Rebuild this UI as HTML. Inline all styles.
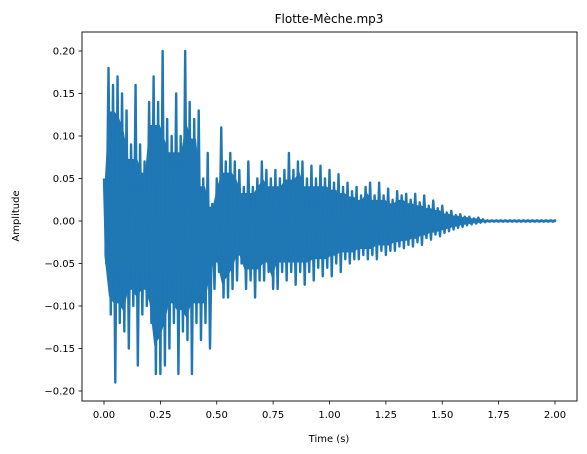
<!DOCTYPE html>
<html><head><meta charset="utf-8"><style>
body{margin:0;background:#fff;}
svg{display:block;font-family:"DejaVu Sans","Liberation Sans",sans-serif;}
</style></head><body>
<svg id="chart" width="587" height="454">
<text x="329" y="23" text-anchor="middle" font-size="12">Flotte-Mèche.mp3</text>
<g id="plot"></g>
<rect x="82" y="32" width="495" height="369" fill="none" stroke="#000" stroke-width="0.9"/>
<g id="xticks"></g>
<g id="yticks"></g>
<text x="329" y="442" text-anchor="middle" font-size="10">Time (s)</text>
<text transform="translate(19,216) rotate(-90)" text-anchor="middle" font-size="10">Amplitude</text>
</svg>
<script>
const binStep = 0.02;
const maxVals = [0.05,0.18,0.16,0.17,0.15,0.13,0.09,0.16,0.09,0.07,0.14,0.17,0.14,0.20,0.12,0.10,0.15,0.10,0.20,0.14,0.12,0.13,0.05,0.08,0.02,0.05,0.11,0.07,0.08,0.07,0.06,0.04,0.07,0.04,0.05,
0.07,0.06,0.05,0.06,0.05,0.06,0.08,0.06,0.07,0.07,0.05,0.065,0.05,0.065,0.05,0.06,0.045,0.055,0.04,0.045,0.035,0.04,0.03,0.04,0.045,0.03,0.045,0.03,0.038,0.025,0.035,0.03,0.032,0.025,0.032,0.022,0.03,0.018,0.024,0.015,0.018,0.01,0.012,0.007,0.008,0.005,0.005,0.003,0.004,0.002,
0.0008,0.0008,0.0008,0.0008,0.0008,0.0008,0.0008,0.0008,0.0008,0.0008,0.0008,0.0008,0.0008,0.0008,0.0008,0.0008];
const minVals = [-0.05,-0.11,-0.19,-0.12,-0.13,-0.15,-0.10,-0.17,-0.11,-0.10,-0.12,-0.18,-0.18,-0.17,-0.15,-0.12,-0.18,-0.13,-0.14,-0.18,-0.12,-0.14,-0.12,-0.15,-0.08,-0.06,-0.09,-0.09,-0.08,-0.07,-0.05,-0.08,-0.07,-0.09,-0.07,
-0.07,-0.06,-0.08,-0.08,-0.06,-0.07,-0.06,-0.075,-0.06,-0.075,-0.06,-0.07,-0.055,-0.065,-0.055,-0.065,-0.05,-0.06,-0.045,-0.05,-0.045,-0.045,-0.04,-0.045,-0.04,-0.045,-0.035,-0.04,-0.035,-0.035,-0.03,-0.032,-0.028,-0.03,-0.025,-0.028,-0.02,-0.022,-0.016,-0.018,-0.014,-0.012,-0.01,-0.008,-0.007,-0.005,-0.004,-0.003,-0.002,-0.0015,
-0.0008,-0.0008,-0.0008,-0.0008,-0.0008,-0.0008,-0.0008,-0.0008,-0.0008,-0.0008,-0.0008,-0.0008,-0.0008,-0.0008,-0.0008,-0.0008];
const xTickVals = [0,0.25,0.5,0.75,1.0,1.25,1.5,1.75,2.0];
const xTickLabels = ["0.00","0.25","0.50","0.75","1.00","1.25","1.50","1.75","2.00"];
const yTickVals = [-0.20,-0.15,-0.10,-0.05,0,0.05,0.10,0.15,0.20];
const yTickLabels = ["−0.20","−0.15","−0.10","−0.05","0.00","0.05","0.10","0.15","0.20"];

const NS="http://www.w3.org/2000/svg";
function xs(t){return 104 + t*225.5;}
function ys(v){return 221 - v*850;}
const plotG=document.getElementById("plot");

let coreTop=[],coreBot=[];
for(let i=0;i<maxVals.length;i++){
  const t=Math.min(i*binStep+binStep/4,2.0);
  const nxM=maxVals[Math.min(i+1,maxVals.length-1)], nxm=minVals[Math.min(i+1,minVals.length-1)];
  coreTop.push(xs(t).toFixed(2)+","+ys(Math.min(maxVals[i],nxM)*0.8).toFixed(2));
  coreBot.unshift(xs(t).toFixed(2)+","+ys(Math.max(minVals[i],nxm)*0.8).toFixed(2));
}
const core=document.createElementNS(NS,"polygon");
core.setAttribute("points",coreTop.concat(coreBot).join(" "));
core.setAttribute("fill","#1f77b4");
core.setAttribute("stroke","#1f77b4");
core.setAttribute("stroke-width","1.5");


plotG.appendChild(core);

let pts=[];
for(let i=0;i<maxVals.length;i++){
  const t=i*binStep;
  pts.push(xs(t).toFixed(2)+","+ys(maxVals[i]).toFixed(2));
  const t2=Math.min(t+binStep/2,2.0);
  pts.push(xs(t2).toFixed(2)+","+ys(minVals[i]).toFixed(2));
}
const pl=document.createElementNS(NS,"polyline");
pl.setAttribute("points",pts.join(" "));
pl.setAttribute("fill","none");
pl.setAttribute("stroke","#1f77b4");
pl.setAttribute("stroke-width","2.4");
pl.setAttribute("stroke-linejoin","round");


plotG.appendChild(pl);

const xg=document.getElementById("xticks");
xTickVals.forEach((v,i)=>{
  const x=xs(v);
  const l=document.createElementNS(NS,"line");
  l.setAttribute("x1",x);l.setAttribute("x2",x);l.setAttribute("y1",401);l.setAttribute("y2",404.5);
  l.setAttribute("stroke","#000");l.setAttribute("stroke-width","0.8");
  
  
  xg.appendChild(l);
  const tx=document.createElementNS(NS,"text");
  tx.setAttribute("x",x);tx.setAttribute("y",418);tx.setAttribute("text-anchor","middle");tx.setAttribute("font-size","10");
  tx.textContent=xTickLabels[i];
  
  
  xg.appendChild(tx);
});
const yg=document.getElementById("yticks");
yTickVals.forEach((v,i)=>{
  const y=ys(v);
  const l=document.createElementNS(NS,"line");
  l.setAttribute("x1",78.5);l.setAttribute("x2",82);l.setAttribute("y1",y);l.setAttribute("y2",y);
  l.setAttribute("stroke","#000");l.setAttribute("stroke-width","0.8");
  
  
  yg.appendChild(l);
  const tx=document.createElementNS(NS,"text");
  tx.setAttribute("x",75);tx.setAttribute("y",y+3.5);tx.setAttribute("text-anchor","end");tx.setAttribute("font-size","10");
  tx.textContent=yTickLabels[i];
  
  
  yg.appendChild(tx);
});
</script>
</body></html>
